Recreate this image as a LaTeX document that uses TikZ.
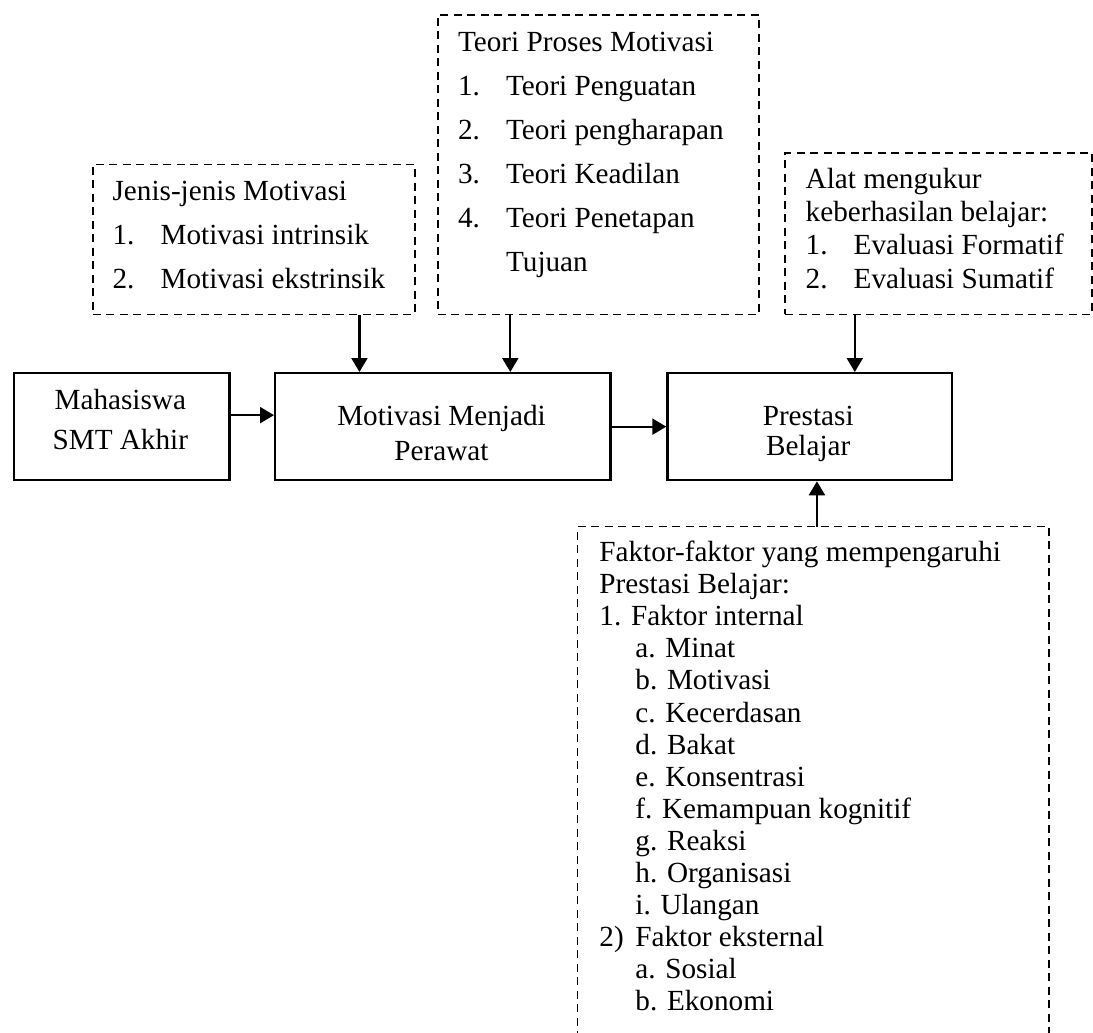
\documentclass[tikz,border=0pt]{standalone}
\usepackage{fontspec}
\setmainfont{Liberation Serif}
\usetikzlibrary{arrows.meta}
\newcommand\numitem[1]{\makebox[24pt][l]{#1}}
\tikzset{
  solidbox/.style={draw, line width=1.15pt, inner sep=0pt, anchor=north west},
  dashbox/.style={draw, line width=0.95pt, dash pattern=on 4pt off 2.75pt, inner sep=0pt, anchor=north west},
  openbox/.style={inner sep=0pt, anchor=north west},
  dashline/.style={line width=0.95pt, dash pattern=on 4pt off 2.75pt},
  arr/.style={line width=1.1pt, -{Triangle[length=7pt,width=8pt]}},
  txtwide/.style={inner sep=0pt, anchor=base west, font=\fontsize{14.6pt}{22pt}\selectfont},
  txtmid/.style={inner sep=0pt, anchor=base west, font=\fontsize{14.6pt}{16.67pt}\selectfont},
  txtnarrow/.style={inner sep=0pt, anchor=base west, font=\fontsize{14.6pt}{16.03pt}\selectfont},
  ctxt/.style={inner sep=0pt, anchor=base}
}
\begin{document}
\begin{tikzpicture}[x=0.5pt,y=-0.5pt]
\useasboundingbox (0,0) rectangle (1093,1033);

% main row
\node[solidbox, minimum width=107.85pt, minimum height=53.5pt] (mah) at (12.6,372) {};
\node[solidbox, minimum width=167.65pt, minimum height=53.5pt] (mot) at (274,372) {};
\node[solidbox, minimum width=142.1pt, minimum height=53.5pt] (pre) at (666.3,372) {};

\node[ctxt, font=\fontsize{14.6pt}{20pt}\selectfont] (mahtxt) at (120.3,409.3)
  {\begin{tabular}[t]{@{}c@{}}Mahasiswa\\SMT Akhir\end{tabular}};
\node[ctxt, font=\fontsize{14.6pt}{17.5pt}\selectfont] (mottxt) at (441.5,425)
  {\begin{tabular}[t]{@{}c@{}}Motivasi Menjadi\\Perawat\end{tabular}};
\node[ctxt, font=\fontsize{14.6pt}{15pt}\selectfont] (pretxt) at (808.2,425)
  {\begin{tabular}[t]{@{}c@{}}Prestasi\\Belajar\end{tabular}};

% dashed boxes
\node[dashbox, minimum width=161pt, minimum height=75pt] (jenis) at (92,163.5) {};
\node[dashbox, minimum width=160.65pt, minimum height=149.75pt] (teori) at (436.7,14) {};
\node[dashbox, minimum width=153.45pt, minimum height=80.9pt] (alat) at (784.4,151.7) {};
\node[openbox, minimum width=235.45pt, minimum height=256pt] (bot) at (577.5,526.5) {};
\draw[dashline] (bot.south west) -- (bot.north west) -- (bot.north east) -- (bot.south east);

\node[txtwide] (jenistxt) at (112.2,200)
  {\begin{tabular}[t]{@{}l@{}}Jenis-jenis Motivasi\\
   \numitem{1.}Motivasi intrinsik\\
   \numitem{2.}Motivasi ekstrinsik\end{tabular}};

\node[txtwide] (teoritxt) at (457.7,51.7)
  {\begin{tabular}[t]{@{}l@{}}Teori Proses Motivasi\\
   \numitem{1.}Teori Penguatan\\
   \numitem{2.}Teori pengharapan\\
   \numitem{3.}Teori Keadilan\\
   \numitem{4.}Teori Penetapan\\
   \hspace*{24pt}Tujuan\end{tabular}};

\node[txtmid] (alattxt) at (805.3,188.3)
  {\begin{tabular}[t]{@{}l@{}}Alat mengukur\\
   keberhasilan belajar:\\
   \numitem{1.}Evaluasi Formatif\\
   \numitem{2.}Evaluasi Sumatif\end{tabular}};

\node[txtnarrow] (bottxt) at (599,561.7)
  {\begin{tabular}[t]{@{}l@{}}Faktor-faktor yang mempengaruhi\\
   Prestasi Belajar:\\
   1. Faktor internal\\
   \hspace*{18pt}a. Minat\\
   \hspace*{18pt}b. Motivasi\\
   \hspace*{18pt}c. Kecerdasan\\
   \hspace*{18pt}d. Bakat\\
   \hspace*{18pt}e. Konsentrasi\\
   \hspace*{18pt}f. Kemampuan kognitif\\
   \hspace*{18pt}g. Reaksi\\
   \hspace*{18pt}h. Organisasi\\
   \hspace*{18pt}i. Ulangan\\
   \makebox[18pt][l]{2)}Faktor eksternal\\
   \hspace*{18pt}a. Sosial\\
   \hspace*{18pt}b. Ekonomi\end{tabular}};

% connectors
\draw[arr] ([yshift=5.75pt]mah.east) -- ([yshift=5.75pt]mah.east -| mot.west);
\draw[arr] (mot.east) -- (mot.east -| pre.west);
\draw[arr] ([xshift=52.75pt]jenis.south) -- ([xshift=52.75pt]jenis.south |- mot.north);
\draw[arr] ([xshift=-44pt]teori.south) -- ([xshift=-44pt]teori.south |- mot.north);
\draw[arr] ([xshift=-42pt]alat.south) -- ([xshift=-42pt]alat.south |- pre.north);
\draw[arr] ([xshift=1.8pt]bot.north) -- ([xshift=1.8pt]bot.north |- pre.south);
\end{tikzpicture}
\end{document}
